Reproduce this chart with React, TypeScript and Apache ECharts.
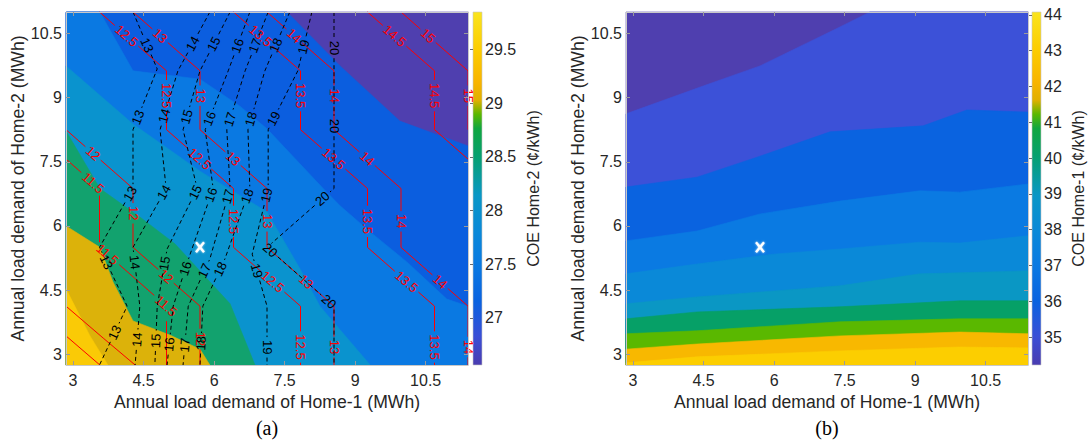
import { useEffect, useRef } from 'react';
import * as echarts from 'echarts';

const FONT = '"Liberation Sans", Arial, Helvetica, sans-serif';
const INK = '#262626';
const FRAME = '#c8c8c8';
const TICK = '#9a9a9a';

// Demand ranges of the two homes (MWh)
const xRange = [2.85, 11.4];
const yRange = [2.75, 11.0];
const xTicks = [3, 4.5, 6, 7.5, 9, 10.5];
const yTicks = [3, 4.5, 6, 7.5, 9, 10.5];
const xTitle = 'Annual load demand of Home-1 (MWh)';
const yTitle = 'Annual load demand of Home-2 (MWh)';
const baseCase = [5.7, 5.5];

// Colour map shared by both colour bars (offset from the low end, colour)
const colormapOffsets = [0, 0.08, 0.18, 0.28, 0.38, 0.48, 0.59, 0.67, 0.71, 0.75, 0.8, 0.89, 1];
const colormapColors = ['#4A3CB0', '#3A4ED6', '#0A62E0', '#0A79E2', '#0A89D8', '#0A97C6', '#06A070', '#10A640', '#5AB800', '#E0B000', '#F8B400', '#FCCC00', '#FAE41E'];

// (a) COE of Home-2 (¢/kWh): filled bands
const home2Scale = [26.56, 29.85];
const home2Ticks = [27, 27.5, 28, 28.5, 29, 29.5];
const home2Levels = [27, 27.5, 28, 28.5, 29, 29.5];
const home2Colors = ['#4F3FAF', '#0B5EDF', '#0A79E2', '#0A93CE', '#12A26E', '#DCB20A', '#FACA06'];
const home2Edge27 = [[7.55, 11], [8.68, 9.74], [9.95, 8.45], [10.7, 8.15], [11.4, 7.87]];
const home2Edge275 = [[3.57, 11], [4.275, 9.625], [5.7, 9.43], [6.55, 8.8], [7.125, 8.27], [8.32, 6.875], [8.68, 6.47], [9.32, 5.86], [10.1, 5.16], [10.95, 4.29], [11.4, 4.125]];
const home2Edge28 = [[2.85, 9.74], [4.275, 8.38], [5.7, 7.28], [7.125, 6.33], [7.83, 4.99], [8.25, 4.125], [9.32, 2.75]];
const home2Edge285 = [[2.85, 8.22], [3.57, 6.875], [4.42, 6.21], [5.17, 5.58], [6.34, 4.18], [6.87, 2.75]];
const home2Edge29 = [[2.85, 6.0], [3.57, 5.5], [3.85, 4.69], [4.275, 3.78], [5.06, 3.45], [5.7, 3.12], [5.91, 2.75]];
const home2Edge295 = [[2.85, 4.53], [3.36, 3.43], [3.74, 2.75]];
const home2Edges = [home2Edge27, home2Edge275, home2Edge28, home2Edge285, home2Edge29, home2Edge295];

// (a) red contour lines
const redLevels = [10.5, 11, 11.5, 12, 12.5, 13, 13.5, 14, 14.5, 15];
const redLabelled = [false, false, true, true, true, true, true, true, true, true];
const redLines = [
  [[2.85, 3.43], [3.57, 2.75]],
  [[2.85, 4.125], [3.64, 3.38], [4.32, 2.75]],
  [[2.85, 7.5625], [3.5625, 6.875], [3.5625, 5.5], [4.9875, 4.125], [4.9875, 2.75]],
  [[2.85, 8.25], [4.275, 6.875], [4.275, 5.5], [5.7, 4.125], [5.7, 2.75]],
  [[3.5625, 11], [4.9875, 9.625], [4.9875, 8.25], [6.4125, 6.875], [6.4125, 5.5], [7.8375, 4.125], [7.8375, 2.75]],
  [[4.275, 11], [5.7, 9.625], [5.7, 8.25], [7.125, 6.875], [7.125, 5.5], [8.55, 4.125], [8.55, 2.75]],
  [[6.4125, 11], [7.8375, 9.625], [7.8375, 8.25], [9.2625, 6.875], [9.2625, 5.5], [10.6875, 4.125], [10.6875, 2.75]],
  [[7.125, 11], [8.55, 9.625], [8.55, 8.25], [9.975, 6.875], [9.975, 5.5], [11.4, 4.125], [11.4, 2.75]],
  [[9.2625, 11], [10.6875, 9.625], [10.6875, 8.25], [11.4, 7.5625]],
  [[9.975, 11], [11.4, 9.625], [11.4, 8.25]],
];

// (a) black dashed contour lines
const blackLevels = [13, 14, 15, 16, 17, 18, 19, 20];
const blackLabelled = [true, true, true, true, true, true, true, true];
const blackLines = [
  [[4.275, 11], [4.79, 9.67], [4.275, 8.25], [4.275, 6.875], [3.5625, 5.5], [4.15, 4.125], [3.5625, 2.75]],
  [[5.91, 11], [5.23, 9.625], [4.85, 8.25], [4.98, 6.875], [4.275, 5.5], [4.42, 4.125], [4.32, 2.75]],
  [[6.34, 11], [5.7, 9.625], [5.34, 8.25], [5.64, 6.875], [5.0, 5.46], [4.79, 4.125], [4.74, 2.75]],
  [[6.76, 11], [6.3, 9.625], [5.81, 8.25], [5.98, 6.875], [5.49, 5.34], [5.13, 4.125], [5.0, 2.75]],
  [[7.15, 11], [6.66, 9.625], [6.27, 8.25], [6.34, 6.875], [5.91, 5.23], [5.45, 4.125], [5.34, 2.75]],
  [[7.61, 11], [7.08, 9.625], [6.72, 8.25], [6.76, 6.875], [6.23, 5.23], [5.76, 4.125], [5.7, 2.75]],
  [[8.08, 11], [7.78, 9.625], [7.15, 8.25], [7.15, 6.875], [6.81, 5.34], [7.125, 4.125], [7.125, 2.75]],
  [[8.55, 11], [8.55, 8.25], [8.55, 6.875], [7.125, 5.5], [8.55, 4.125], [8.55, 2.75]],
];

// (b) COE of Home-1 (¢/kWh): filled bands
const home1Scale = [34.22, 44.08];
const home1Ticks = [35, 36, 37, 38, 39, 40, 41, 42, 43, 44];
const home1Levels = [35, 36, 37, 38, 39, 40, 41, 42, 43];
const home1Colors = ['#4F3FAF', '#3C51D8', '#0A63E0', '#0A7AE2', '#0A89D8', '#0A97C4', '#06A067', '#5AB800', '#F8B800', '#FCCE00'];
const home1Edge35 = [[2.85, 8.62], [4.49, 9.27], [5.7, 9.74], [7.4, 10.65], [8.04, 11]];
const home1Edge36 = [[2.85, 6.91], [4.36, 7.14], [5.7, 7.63], [7.19, 8.2], [9.17, 8.34], [10.1, 8.71], [11.4, 8.66]];
const home1Edge37 = [[2.85, 5.65], [4.36, 5.88], [5.7, 6.28], [7.4, 6.58], [9.1, 6.82], [9.95, 6.79], [11.4, 6.98]];
const home1Edge38 = [[2.85, 4.88], [4.36, 5.11], [5.98, 5.34], [7.4, 5.46], [9.1, 5.62], [9.95, 5.6], [11.4, 5.77]];
const home1Edge39 = [[2.85, 4.18], [4.36, 4.34], [7.4, 4.6], [9.1, 4.88], [11.4, 4.95]];
const home1Edge40 = [[2.85, 3.83], [4.36, 3.99], [7.4, 4.11], [9.95, 4.25], [11.4, 4.25]];
const home1Edge41 = [[2.85, 3.48], [4.36, 3.55], [7.4, 3.76], [9.95, 3.83], [11.4, 3.83]];
const home1Edge42 = [[2.85, 3.12], [4.36, 3.24], [7.4, 3.43], [9.95, 3.52], [11.4, 3.48]];
const home1Edge43 = [[2.85, 2.8], [4.36, 2.94], [7.4, 3.08], [9.95, 3.17], [11.4, 3.15]];
const home1Edges = [home1Edge35, home1Edge36, home1Edge37, home1Edge38, home1Edge39, home1Edge40, home1Edge41, home1Edge42, home1Edge43];

// ---- geometry helpers ----

// Position of a border point along the plot frame, running clockwise from the top-left corner
function framePos(p: number[]) {
  const [x0, x1] = xRange;
  const [y0, y1] = yRange;
  const W = x1 - x0;
  const H = y1 - y0;
  const e = 1e-6;
  const [x, y] = p;
  if (Math.abs(y - y1) < e) return x - x0;
  if (Math.abs(x - x1) < e) return W + (y1 - y);
  if (Math.abs(y - y0) < e) return W + H + (x1 - x);
  return 2 * W + H + (y - y0);
}

// Closes a band edge with the frame corners on its high-value side
function closeRegion(edge: number[][]) {
  const [x0, x1] = xRange;
  const [y0, y1] = yRange;
  const W = x1 - x0;
  const H = y1 - y0;
  const P = 2 * (W + H);
  const corners = [[x0, y1, 0], [x1, y1, W], [x1, y0, W + H], [x0, y0, 2 * W + H]];
  const tEnd = framePos(edge[edge.length - 1]);
  const tStart = framePos(edge[0]);
  const span = (((tStart - tEnd) % P) + P) % P;
  const extra = corners
    .map(([cx, cy, t]) => ({ p: [cx, cy], d: (((t - tEnd) % P) + P) % P }))
    .filter((c) => c.d > 1e-9 && c.d < span)
    .sort((a, b) => a.d - b.d)
    .map((c) => c.p);
  return [...edge, ...extra];
}

function bandRenderer(edges: number[][][], colors: string[]) {
  return (_params: any, api: any) => {
    const idx = api.value(0);
    const pts =
      idx === 0
        ? [[xRange[0], yRange[1]], [xRange[1], yRange[1]], [xRange[1], yRange[0]], [xRange[0], yRange[0]]]
        : closeRegion(edges[idx - 1]);
    return {
      type: 'polygon',
      z2: idx,
      shape: { points: pts.map((p) => api.coord(p)) },
      style: { fill: colors[idx], stroke: colors[idx], lineWidth: 0.6 },
    };
  };
}

const LABEL_FONT_SIZE = 13;
const LABEL_START = 36;
const LABEL_STEP = 78;

function textWidth(s: string, size: number) {
  let w = 0;
  for (const ch of s) w += ch === '.' ? 0.278 : 0.556;
  return w * size;
}

function arcPoint(pts: number[][], cum: number[], s: number) {
  let k = 0;
  while (k < pts.length - 2 && cum[k + 1] < s) k++;
  const segLen = cum[k + 1] - cum[k] || 1;
  const t = Math.min(1, Math.max(0, (s - cum[k]) / segLen));
  const [x1, y1] = pts[k];
  const [x2, y2] = pts[k + 1];
  return { p: [x1 + (x2 - x1) * t, y1 + (y2 - y1) * t], k };
}

function arcSlice(pts: number[][], cum: number[], a: number, b: number) {
  const out = [arcPoint(pts, cum, a).p];
  for (let k = 1; k < pts.length - 1; k++) if (cum[k] > a && cum[k] < b) out.push(pts[k]);
  out.push(arcPoint(pts, cum, b).p);
  return out;
}

function contourRenderer(lines: number[][][], levels: number[], labelled: boolean[], color: string, dashed: boolean) {
  return (_params: any, api: any) => {
    const i = api.value(0);
    const pts = lines[i].map((p) => api.coord(p));
    const cum = [0];
    for (let k = 1; k < pts.length; k++) {
      cum.push(cum[k - 1] + Math.hypot(pts[k][0] - pts[k - 1][0], pts[k][1] - pts[k - 1][1]));
    }
    const total = cum[cum.length - 1];
    const text = String(levels[i]);
    const gap = textWidth(text, LABEL_FONT_SIZE) + 6;
    const spots: number[] = [];
    if (labelled[i]) for (let s = LABEL_START; s < total - 6; s += LABEL_STEP) spots.push(s);

    const children: any[] = [];
    let a = 0;
    const pieces: number[][] = [];
    for (const s of spots) {
      pieces.push([a, s - gap / 2]);
      a = s + gap / 2;
    }
    pieces.push([a, total]);
    for (const [pa, pb] of pieces) {
      if (pb - pa < 0.5) continue;
      children.push({
        type: 'polyline',
        shape: { points: arcSlice(pts, cum, Math.max(0, pa), Math.min(total, pb)) },
        style: { stroke: color, lineWidth: 1, fill: 'none', lineDash: dashed ? [4, 3] : null },
      });
    }
    for (const s of spots) {
      const { p, k } = arcPoint(pts, cum, s);
      const [x1, y1] = pts[k];
      const [x2, y2] = pts[k + 1];
      let ang = Math.atan2(-(y2 - y1), x2 - x1);
      while (ang >= Math.PI / 2 - 1e-6) ang -= Math.PI;
      while (ang < -Math.PI / 2 - 1e-6) ang += Math.PI;
      children.push({
        type: 'text',
        x: p[0],
        y: p[1],
        rotation: ang,
        style: {
          text,
          fill: color,
          fontSize: LABEL_FONT_SIZE,
          fontFamily: FONT,
          align: 'center',
          verticalAlign: 'middle',
        },
      });
    }
    return { type: 'group', children };
  };
}

function markerRenderer(_params: any, api: any) {
  const [cx, cy] = api.coord([api.value(0), api.value(1)]);
  const style = { stroke: '#ffffff', lineWidth: 2.4, shadowBlur: 2, shadowColor: 'rgba(255,255,255,0.7)' };
  return {
    type: 'group',
    children: [
      { type: 'line', shape: { x1: cx - 4, y1: cy - 5, x2: cx + 4, y2: cy + 5 }, style },
      { type: 'line', shape: { x1: cx + 4, y1: cy - 5, x2: cx - 4, y2: cy + 5 }, style },
    ],
  };
}

function colorbarRenderer(scale: number[]) {
  return (_params: any, api: any) => {
    const p0 = api.coord([0, scale[1]]);
    const p1 = api.coord([1, scale[0]]);
    const stops = colormapOffsets.map((o, i) => ({ offset: o, color: colormapColors[i] }));
    return {
      type: 'rect',
      shape: { x: p0[0], y: p0[1], width: p1[0] - p0[0], height: p1[1] - p0[1] },
      style: { fill: new echarts.graphic.LinearGradient(0, 1, 0, 0, stops), stroke: FRAME, lineWidth: 0.6 },
    };
  };
}

// ---- axes ----

const nameStyle = { color: INK, fontSize: 17.6, fontFamily: FONT };
const labelStyle = { color: INK, fontSize: 16, fontFamily: FONT };

function mainX(gridIndex: number) {
  return {
    type: 'value', gridIndex, min: xRange[0], max: xRange[1], position: 'bottom', z: 5,
    axisLine: { show: true, onZero: false, lineStyle: { color: FRAME } },
    axisTick: { show: true, inside: true, length: 4, customValues: xTicks, lineStyle: { color: TICK } },
    axisLabel: { show: true, customValues: xTicks, margin: 7, ...labelStyle },
    splitLine: { show: false },
    name: xTitle, nameLocation: 'middle', nameGap: 27, nameTextStyle: nameStyle,
  };
}

function boxX(gridIndex: number) {
  return {
    type: 'value', gridIndex, min: xRange[0], max: xRange[1], position: 'top', z: 5,
    axisLine: { show: true, onZero: false, lineStyle: { color: FRAME } },
    axisTick: { show: true, inside: true, length: 4, customValues: xTicks, lineStyle: { color: TICK } },
    axisLabel: { show: false },
    splitLine: { show: false },
  };
}

function mainY(gridIndex: number) {
  return {
    type: 'value', gridIndex, min: yRange[0], max: yRange[1], position: 'left', z: 5,
    axisLine: { show: true, onZero: false, lineStyle: { color: FRAME } },
    axisTick: { show: true, inside: true, length: 4, customValues: yTicks, lineStyle: { color: TICK } },
    axisLabel: { show: true, customValues: yTicks, margin: 4, ...labelStyle },
    splitLine: { show: false },
    name: yTitle, nameLocation: 'middle', nameGap: 37, nameRotate: 90, nameTextStyle: nameStyle,
  };
}

function boxY(gridIndex: number) {
  return {
    type: 'value', gridIndex, min: yRange[0], max: yRange[1], position: 'right', z: 5,
    axisLine: { show: true, onZero: false, lineStyle: { color: FRAME } },
    axisTick: { show: true, inside: true, length: 4, customValues: yTicks, lineStyle: { color: TICK } },
    axisLabel: { show: false },
    splitLine: { show: false },
  };
}

function barX(gridIndex: number) {
  return { type: 'value', gridIndex, min: 0, max: 1, show: false };
}

function barY(gridIndex: number, scale: number[], ticks: number[], name: string, gap: number) {
  return {
    type: 'value', gridIndex, min: scale[0], max: scale[1], position: 'right', z: 5,
    axisLine: { show: false },
    axisTick: { show: true, inside: true, length: 3, customValues: ticks, lineStyle: { color: '#6a6a6a' } },
    axisLabel: { show: true, customValues: ticks, margin: 3, ...labelStyle },
    splitLine: { show: false },
    name, nameLocation: 'middle', nameGap: gap, nameRotate: 90,
    nameTextStyle: { color: INK, fontSize: 16, fontFamily: FONT },
  };
}

export default function App() {
  const ref = useRef<HTMLDivElement>(null);

  useEffect(() => {
    if (!ref.current) return;
    const chart = echarts.init(ref.current, undefined, { renderer: 'svg' });
    const option: any = {
      animation: false,
      backgroundColor: '#ffffff',
      textStyle: { fontFamily: FONT },
      grid: [
        { left: 66, top: 12, width: 402, height: 353 },
        { left: 626, top: 12, width: 402, height: 353 },
        { left: 473, top: 12, width: 9, height: 353 },
        { left: 1032, top: 12, width: 9, height: 353 },
      ],
      xAxis: [mainX(0), boxX(0), mainX(1), boxX(1), barX(2), barX(3)],
      yAxis: [
        mainY(0), boxY(0), mainY(1), boxY(1),
        barY(2, home2Scale, home2Ticks, 'COE Home-2 (¢/kWh)', 43),
        barY(3, home1Scale, home1Ticks, 'COE Home-1 (¢/kWh)', 29),
      ],
      series: [
        {
          type: 'custom', name: 'COE Home-2', xAxisIndex: 0, yAxisIndex: 0, z: 1, silent: true,
          data: home2Colors.map((_, i) => [i]),
          renderItem: bandRenderer(home2Edges, home2Colors),
        },
        {
          type: 'custom', name: 'red contours', xAxisIndex: 0, yAxisIndex: 0, z: 3, silent: true,
          data: redLevels.map((_, i) => [i]),
          renderItem: contourRenderer(redLines, redLevels, redLabelled, '#ff0000', false),
        },
        {
          type: 'custom', name: 'black contours', xAxisIndex: 0, yAxisIndex: 0, z: 3, silent: true,
          data: blackLevels.map((_, i) => [i]),
          renderItem: contourRenderer(blackLines, blackLevels, blackLabelled, '#000000', true),
        },
        {
          type: 'custom', name: 'base case a', xAxisIndex: 0, yAxisIndex: 0, z: 4, silent: true,
          data: [baseCase], renderItem: markerRenderer,
        },
        {
          type: 'custom', name: 'COE Home-1', xAxisIndex: 2, yAxisIndex: 2, z: 1, silent: true,
          data: home1Colors.map((_, i) => [i]),
          renderItem: bandRenderer(home1Edges, home1Colors),
        },
        {
          type: 'custom', name: 'base case b', xAxisIndex: 2, yAxisIndex: 2, z: 4, silent: true,
          data: [baseCase], renderItem: markerRenderer,
        },
        {
          type: 'custom', name: 'colour bar a', xAxisIndex: 4, yAxisIndex: 4, z: 1, silent: true,
          data: [[0, home2Scale[0]]], renderItem: colorbarRenderer(home2Scale),
        },
        {
          type: 'custom', name: 'colour bar b', xAxisIndex: 5, yAxisIndex: 5, z: 1, silent: true,
          data: [[0, home1Scale[0]]], renderItem: colorbarRenderer(home1Scale),
        },
      ],
      graphic: [
        {
          type: 'text', x: 267, y: 428,
          style: { text: '(a)', fill: '#000', font: '20px "Liberation Serif", "Times New Roman", serif', align: 'center', verticalAlign: 'middle' },
        },
        {
          type: 'text', x: 827, y: 428,
          style: { text: '(b)', fill: '#000', font: '20px "Liberation Serif", "Times New Roman", serif', align: 'center', verticalAlign: 'middle' },
        },
      ],
    };
    chart.setOption(option);
    return () => chart.dispose();
  }, []);

  return (
    <div
      ref={ref}
      style={{ position: 'absolute', left: 0, top: 0, width: 1088, height: 442, background: '#fff' }}
    />
  );
}
